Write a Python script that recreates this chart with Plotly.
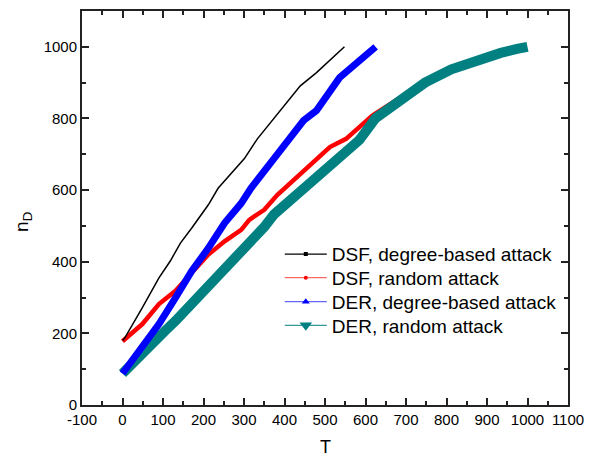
import plotly.graph_objects as go

# DSF, degree-based attack
dsf_deg_T = [0, 5, 49, 90, 118, 143, 171, 183, 212, 236, 301, 333, 374, 439, 479, 548]
dsf_deg_n = [180, 186, 272, 355, 402, 452, 494, 514, 559, 605, 688, 743, 799, 891, 928, 1000]

# DSF, random attack
dsf_rnd_T = [0, 49, 90, 131, 171, 212, 252, 293, 313, 350, 382, 463, 512, 552, 585, 617, 674, 739, 812, 885, 950, 990]
dsf_rnd_n = [178, 226, 282, 319, 369, 420, 457, 489, 517, 545, 586, 669, 720, 743, 776, 808, 850, 895, 938, 966, 994, 1000]

# DER, degree-based attack
der_deg_T = [0, 49, 90, 131, 171, 212, 252, 293, 317, 374, 447, 479, 536, 625]
der_deg_n = [88, 161, 226, 300, 374, 438, 508, 563, 605, 688, 794, 822, 914, 1000]

# DER, random attack
der_rnd_T = [0, 49, 106, 131, 187, 212, 268, 293, 350, 374, 463, 512, 552, 585, 625, 666, 715, 747, 812, 877, 934, 974, 1000]
der_rnd_n = [88, 148, 208, 235, 300, 337, 393, 429, 497, 532, 623, 674, 706, 740, 801, 836, 877, 900, 937, 965, 983, 994, 1000]

x_tick_vals = [-100, 0, 100, 200, 300, 400, 500, 600, 700, 800, 900, 1000, 1100]
x_tick_text = ["-100", "0", "100", "200", "300", "400", "500", "600", "700", "800", "900", "1000", "1100"]

names = ["DSF, degree-based attack", "DSF, random attack",
         "DER, degree-based attack", "DER, random attack"]
colors = ["#000000", "#ff0000", "#0000ff", "#008080"]
legend_line_colors = ["#000000", "#ff6666", "#6666ff", "#339999"]
symbols = ["square", "circle", "triangle-up", "triangle-down"]
msizes = [4, 4, 7, 11]
widths = [1.5, 4.5, 7, 10]

xs = [dsf_deg_T, dsf_rnd_T, der_deg_T, der_rnd_T]
ys = [dsf_deg_n, dsf_rnd_n, der_deg_n, der_rnd_n]

FONT = "Arial, Liberation Sans, sans-serif"

fig = go.Figure()
# draw order: red under teal, teal, blue, black
order = [1, 3, 2, 0]
for i in order:
    fig.add_trace(go.Scatter(x=xs[i], y=ys[i], mode="lines",
                             line=dict(color=colors[i], width=widths[i]),
                             showlegend=False, hoverinfo="skip"))
legend_ids = ["legend", "legend2", "legend3", "legend4"]
for i in range(4):
    fig.add_trace(go.Scatter(x=[None], y=[None], mode="lines+markers", name=names[i],
                             line=dict(color=legend_line_colors[i], width=1.2),
                             marker=dict(symbol=symbols[i], size=msizes[i], color=colors[i]),
                             showlegend=True, legend=legend_ids[i]))

axis_common = dict(
    showline=True, linecolor="#222222", linewidth=2, mirror="allticks",
    ticks="inside", ticklen=7, tickwidth=1.5, tickcolor="#222222",
    showgrid=False, zeroline=False,
    tickfont=dict(family=FONT, size=15, color="#000000"),
)

fig.update_xaxes(range=[-100, 1100], tickmode="array", tickvals=x_tick_vals, ticktext=x_tick_text,
                 minor=dict(dtick=50, tick0=0, ticks="inside", ticklen=4, tickwidth=1.5, tickcolor="#222222"),
                 **axis_common)
fig.update_yaxes(range=[0, 1100], dtick=200, tick0=0,
                 minor=dict(dtick=100, ticks="inside", ticklen=4, tickwidth=1.5, tickcolor="#222222"),
                 **axis_common)

fig.add_annotation(text="T", xref="paper", yref="paper", x=0.5, y=-0.106,
                   xanchor="center", yanchor="middle", showarrow=False,
                   font=dict(family=FONT, size=18, color="#000000"))
fig.add_annotation(text="n<sub>D</sub>", xref="paper", yref="paper", x=-0.122, y=0.464,
                   xanchor="center", yanchor="middle", showarrow=False, textangle=-90,
                   font=dict(family=FONT, size=19, color="#000000"))

legend_common = dict(x=0.407, xanchor="left", yanchor="top",
                     bgcolor="rgba(0,0,0,0)", borderwidth=0, itemwidth=42,
                     font=dict(family=FONT, size=19, color="#000000"))
legend_y = [0.431, 0.371, 0.310, 0.250]

fig.update_layout(
    width=593, height=458,
    margin=dict(l=82, r=17.5, t=8.5, b=53),
    paper_bgcolor="white", plot_bgcolor="white",
    legend=dict(y=legend_y[0], **legend_common),
    legend2=dict(y=legend_y[1], **legend_common),
    legend3=dict(y=legend_y[2], **legend_common),
    legend4=dict(y=legend_y[3], **legend_common),
    font=dict(family=FONT),
)

fig.write_html("out.html")
